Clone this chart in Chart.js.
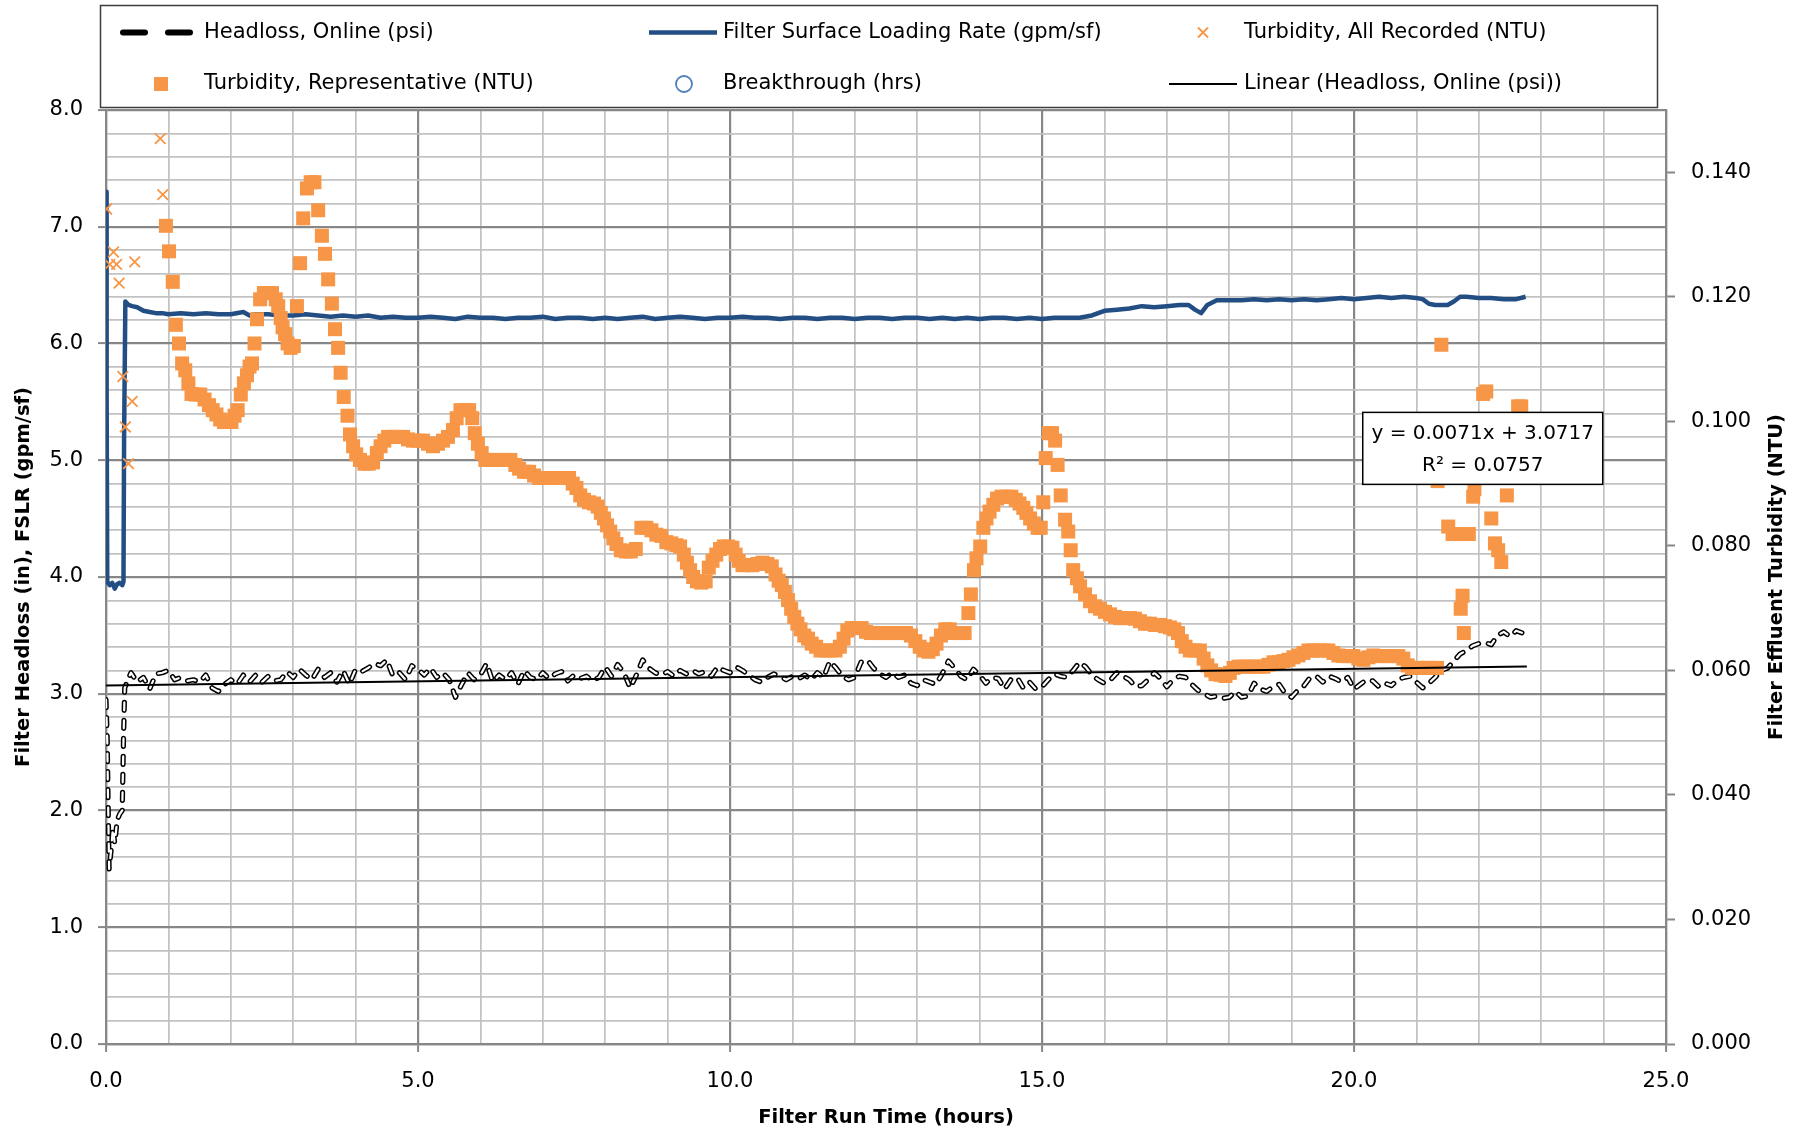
<!DOCTYPE html>
<html>
<head>
<meta charset="utf-8">
<script src="https://cdn.jsdelivr.net/npm/chart.js@4.4.0/dist/chart.umd.min.js"></script>
<style>
html,body{margin:0;padding:0;background:#fff;}
#wrap{width:1808px;height:1134px;position:relative;}
</style>
</head>
<body>
<div id="wrap"><canvas id="c" width="1808" height="1134"></canvas></div>
<script>
// ---------------- DATA ----------------
const seriesNames = [
  'Headloss, Online (psi)',
  'Filter Surface Loading Rate (gpm/sf)',
  'Turbidity, All Recorded (NTU)',
  'Turbidity, Representative (NTU)',
  'Breakthrough (hrs)',
  'Linear (Headloss, Online (psi))'
];
const xTitle = 'Filter Run Time (hours)';
const yTitle = 'Filter Headloss (in), FSLR (gpm/sf)';
const y2Title = 'Filter Effluent Turbidity (NTU)';
const trendLabel = ['y = 0.0071x + 3.0717', 'R\u00B2 = 0.0757'];

const xTickValues = [0, 5, 10, 15, 20, 25];
const xTickLabels = ['0.0', '5.0', '10.0', '15.0', '20.0', '25.0'];
const yTickValues = [0, 1, 2, 3, 4, 5, 6, 7, 8];
const yTickLabels = ['0.0', '1.0', '2.0', '3.0', '4.0', '5.0', '6.0', '7.0', '8.0'];
const y2TickValues = [0, 0.02, 0.04, 0.06, 0.08, 0.10, 0.12, 0.14];
const y2TickLabels = ['0.000', '0.020', '0.040', '0.060', '0.080', '0.100', '0.120', '0.140'];

// Headloss, Online (psi) - left axis
const hlTime = [
  0, 0.02, 0.03, 0.05, 0.08, 0.11, 0.14, 0.18, 0.22, 0.26,
  0.28, 0.30, 0.35,
  0.4, 0.5, 0.6, 0.7, 0.8, 0.9, 1.0, 1.1, 1.2, 1.3,
  1.4, 1.5, 1.6, 1.7, 1.8, 1.9, 2.0, 2.1, 2.2, 2.3,
  2.4, 2.5, 2.6, 2.7, 2.8, 2.9, 3.0, 3.1, 3.2, 3.3,
  3.4, 3.5, 3.6, 3.7, 3.8, 3.9, 4.0, 4.1, 4.2, 4.3,
  4.4, 4.5, 4.6, 4.7, 4.8, 4.9, 5.0, 5.1, 5.2, 5.3,
  5.4, 5.5, 5.6, 5.7, 5.8, 5.9, 6.0, 6.1, 6.2, 6.3,
  6.4, 6.5, 6.6, 6.7, 6.8, 6.9, 7.0, 7.1, 7.2, 7.3,
  7.4, 7.5, 7.6, 7.7, 7.8, 7.9, 8.0, 8.1, 8.2, 8.3,
  8.4, 8.5, 8.6, 8.7, 8.8, 8.9, 9.0, 9.1, 9.2, 9.3,
  9.4, 9.5, 9.6, 9.7, 9.8, 9.9, 10.0, 10.1, 10.2, 10.3,
  10.4, 10.5, 10.6, 10.7, 10.8, 10.9, 11.0, 11.1, 11.2, 11.3,
  11.4, 11.5, 11.6, 11.7, 11.8, 11.9, 12.0, 12.1, 12.2, 12.3,
  12.4, 12.5, 12.6, 12.7, 12.8, 12.9, 13.0, 13.1, 13.2, 13.3,
  13.4, 13.5, 13.6, 13.7, 13.8, 13.9, 14.0, 14.1, 14.2, 14.3,
  14.4, 14.5, 14.6, 14.7, 14.8, 14.9, 15.0, 15.1, 15.2, 15.3,
  15.4, 15.5, 15.6, 15.7, 15.8, 15.9, 16.0, 16.1, 16.2, 16.3,
  16.4, 16.5, 16.6, 16.7, 16.8, 16.9, 17.0, 17.1, 17.2, 17.3,
  17.4, 17.5, 17.6, 17.7, 17.8, 17.9, 18.0, 18.1, 18.2, 18.3,
  18.4, 18.5, 18.6, 18.7, 18.8, 18.9, 19.0, 19.1, 19.2, 19.3,
  19.4, 19.5, 19.6, 19.7, 19.8, 19.9, 20.0, 20.1, 20.2, 20.3,
  20.4, 20.5, 20.6, 20.7, 20.8, 20.9, 21.0, 21.1, 21.2, 21.3,
  21.4, 21.5, 21.6, 21.7, 21.8, 21.9, 22.0, 22.1, 22.2, 22.3,
  22.4, 22.5, 22.6, 22.7, 22.75
];
const hlValue = [
  2.95, 2.60, 2.20, 1.50, 1.65, 1.85, 1.72, 1.92, 1.97, 2.00,
  2.60, 3.05, 3.12,
  3.18, 3.10, 3.14, 3.04, 3.17, 3.18, 3.20, 3.12, 3.14, 3.11,
  3.12, 3.10, 3.16, 3.05, 3.02, 3.08, 3.12, 3.08, 3.16, 3.10,
  3.16, 3.10, 3.15, 3.11, 3.12, 3.19, 3.14, 3.21, 3.16, 3.12,
  3.21, 3.14, 3.18, 3.10, 3.20, 3.08, 3.21, 3.19, 3.22, 3.26,
  3.24, 3.29, 3.15, 3.18, 3.12, 3.24, 3.21, 3.16, 3.22, 3.14,
  3.18, 3.12, 2.97, 3.08, 3.18, 3.12, 3.16, 3.26, 3.10, 3.16,
  3.12, 3.18, 3.08, 3.20, 3.14, 3.12, 3.18, 3.13, 3.17, 3.19,
  3.11, 3.16, 3.13, 3.15, 3.11, 3.14, 3.23, 3.15, 3.25, 3.18,
  3.05, 3.16, 3.29, 3.22, 3.18, 3.16, 3.19, 3.15, 3.20, 3.17,
  3.20, 3.17, 3.19, 3.15, 3.23, 3.20, 3.18, 3.23, 3.20, 3.16,
  3.12, 3.10, 3.14, 3.17, 3.15, 3.12, 3.15, 3.13, 3.16, 3.12,
  3.18, 3.14, 3.28, 3.22, 3.15, 3.12, 3.14, 3.27, 3.29, 3.22,
  3.17, 3.14, 3.18, 3.14, 3.16, 3.09, 3.07, 3.12, 3.10, 3.08,
  3.17, 3.28, 3.22, 3.15, 3.12, 3.21, 3.16, 3.09, 3.14, 3.13,
  3.04, 3.12, 3.14, 3.05, 3.10, 3.04, 3.06, 3.12, 3.17, 3.15,
  3.14, 3.20, 3.27, 3.23, 3.16, 3.12, 3.09, 3.12, 3.18, 3.15,
  3.12, 3.06, 3.07, 3.12, 3.18, 3.13, 3.06, 3.12, 3.15, 3.14,
  3.08, 3.03, 3.00, 2.97, 2.98, 2.96, 2.97, 3.02, 2.97, 2.98,
  3.09, 3.04, 3.02, 3.06, 3.08, 3.00, 2.97, 3.03, 3.07, 3.14,
  3.15, 3.10, 3.15, 3.13, 3.10, 3.14, 3.04, 3.08, 3.12, 3.11,
  3.06, 3.09, 3.07, 3.12, 3.14, 3.15, 3.10, 3.05, 3.09, 3.14,
  3.20, 3.22, 3.28, 3.34, 3.37, 3.41, 3.43, 3.44, 3.42, 3.50,
  3.53, 3.49, 3.54, 3.52, 3.55
];

// Filter Surface Loading Rate (gpm/sf) - left axis
const fslrTime = [
  0, 0.01, 0.02, 0.06, 0.10, 0.14, 0.18, 0.22, 0.26, 0.28,
  0.29, 0.31, 0.36, 0.42, 0.5, 0.6, 0.7, 0.8, 0.9, 1.0,
  1.2, 1.4, 1.6, 1.8, 2.0, 2.2, 2.3, 2.4, 2.6, 2.8,
  3.0, 3.2, 3.4, 3.6, 3.8, 4.0, 4.2, 4.4, 4.6, 4.8,
  5.0, 5.2, 5.4, 5.6, 5.8, 6.0, 6.2, 6.4, 6.6, 6.8,
  7.0, 7.2, 7.4, 7.6, 7.8, 8.0, 8.2, 8.4, 8.6, 8.8,
  9.0, 9.2, 9.4, 9.6, 9.8, 10.0, 10.2, 10.4, 10.6, 10.8,
  11.0, 11.2, 11.4, 11.6, 11.8, 12.0, 12.2, 12.4, 12.6, 12.8,
  13.0, 13.2, 13.4, 13.6, 13.8, 14.0, 14.2, 14.4, 14.6, 14.8,
  15.0, 15.2, 15.4, 15.6, 15.8, 16.0, 16.2, 16.4, 16.6, 16.8,
  17.0, 17.2, 17.35, 17.45, 17.55, 17.65, 17.8, 18.0, 18.2, 18.4,
  18.6, 18.8, 19.0, 19.2, 19.4, 19.6, 19.8, 20.0, 20.2, 20.4,
  20.6, 20.8, 21.0, 21.1, 21.2, 21.3, 21.4, 21.5, 21.6, 21.7,
  21.8, 22.0, 22.2, 22.4, 22.6, 22.75
];
const fslrValue = [
  7.30, 5.60, 3.96, 3.93, 3.95, 3.90, 3.94, 3.95, 3.93, 3.96,
  5.20, 6.36, 6.33, 6.32, 6.31, 6.28, 6.27, 6.26, 6.26, 6.25,
  6.26, 6.25, 6.26, 6.25, 6.25, 6.27, 6.24, 6.25, 6.25, 6.24,
  6.24, 6.25, 6.24, 6.23, 6.24, 6.23, 6.24, 6.22, 6.23, 6.22,
  6.22, 6.23, 6.22, 6.21, 6.23, 6.22, 6.22, 6.21, 6.22, 6.22,
  6.23, 6.21, 6.22, 6.22, 6.21, 6.22, 6.21, 6.22, 6.23, 6.21,
  6.22, 6.23, 6.22, 6.21, 6.22, 6.22, 6.23, 6.22, 6.22, 6.21,
  6.22, 6.22, 6.21, 6.22, 6.22, 6.21, 6.22, 6.22, 6.21, 6.22,
  6.22, 6.21, 6.22, 6.21, 6.22, 6.21, 6.22, 6.22, 6.21, 6.22,
  6.21, 6.22, 6.22, 6.22, 6.24, 6.28, 6.29, 6.30, 6.32, 6.31,
  6.32, 6.33, 6.33, 6.29, 6.26, 6.33, 6.37, 6.37, 6.37, 6.38,
  6.37, 6.38, 6.37, 6.38, 6.37, 6.38, 6.39, 6.38, 6.39, 6.40,
  6.39, 6.40, 6.39, 6.38, 6.34, 6.33, 6.33, 6.33, 6.36, 6.40,
  6.40, 6.39, 6.39, 6.38, 6.38, 6.40
];

// Turbidity, All Recorded (NTU) - right axis
const turbAllTime = [0.01, 0.06, 0.12, 0.17, 0.21, 0.27, 0.31, 0.36, 0.42, 0.46, 0.87, 0.91];
const turbAllNTU  = [0.1341, 0.1252, 0.1272, 0.1252, 0.1222, 0.1072, 0.0991, 0.0932, 0.1032, 0.1256, 0.1454, 0.1364];

// Turbidity, Representative (NTU) - right axis
const turbRepTime = [
  0.96, 1.01, 1.07, 1.12, 1.17, 1.22, 1.27, 1.32, 1.37, 1.44,
  1.51, 1.58, 1.65, 1.71, 1.77, 1.83, 1.89, 1.95, 2.01, 2.06,
  2.11, 2.16, 2.21, 2.26, 2.30, 2.34, 2.38, 2.42, 2.47, 2.53,
  2.60, 2.66, 2.72, 2.76, 2.80, 2.83, 2.87, 2.91, 2.96, 3.01,
  3.06, 3.11, 3.16, 3.22, 3.28, 3.34, 3.40, 3.46, 3.51, 3.56,
  3.62, 3.67, 3.72, 3.76, 3.81, 3.87, 3.91, 3.96, 4.01, 4.07,
  4.14, 4.21, 4.28, 4.34, 4.40, 4.46, 4.52, 4.60, 4.68, 4.76,
  4.84, 4.92, 5.00, 5.08, 5.16, 5.24, 5.32, 5.40, 5.48, 5.56,
  5.62, 5.68, 5.75, 5.82, 5.87, 5.91, 5.96, 6.02, 6.08, 6.16,
  6.24, 6.32, 6.40, 6.48, 6.56, 6.62, 6.70, 6.78, 6.86, 6.94,
  7.02, 7.10, 7.18, 7.26, 7.34, 7.42, 7.48, 7.54, 7.60, 7.66,
  7.74, 7.82, 7.88, 7.93, 7.98, 8.03, 8.08, 8.13, 8.18, 8.25,
  8.33, 8.41, 8.49, 8.58, 8.66, 8.74, 8.82, 8.90, 8.98, 9.06,
  9.14, 9.20, 9.26, 9.31, 9.36, 9.41, 9.47, 9.54, 9.61, 9.66,
  9.72, 9.78, 9.84, 9.90, 9.97, 10.04, 10.09, 10.14, 10.20, 10.28,
  10.36, 10.44, 10.52, 10.60, 10.67, 10.73, 10.78, 10.83, 10.88, 10.93,
  10.98, 11.03, 11.08, 11.13, 11.19, 11.25, 11.31, 11.38, 11.45, 11.53,
  11.61, 11.69, 11.76, 11.82, 11.88, 11.95, 12.03, 12.11, 12.18, 12.26,
  12.34, 12.42, 12.50, 12.58, 12.66, 12.74, 12.82, 12.90, 12.97, 13.04,
  13.11, 13.18, 13.25, 13.31, 13.38, 13.45, 13.52, 13.60, 13.68, 13.76,
  13.82, 13.86, 13.91, 13.95, 14.01, 14.06, 14.11, 14.16, 14.22, 14.28,
  14.35, 14.43, 14.51, 14.58, 14.64, 14.70, 14.75, 14.81, 14.87, 14.93,
  14.98, 15.02, 15.06, 15.11, 15.16, 15.21, 15.25, 15.30, 15.37, 15.42,
  15.46, 15.50, 15.56, 15.61, 15.69, 15.77, 15.85, 15.93, 16.01, 16.09,
  16.17, 16.25, 16.33, 16.41, 16.49, 16.57, 16.65, 16.73, 16.81, 16.89,
  16.97, 17.05, 17.12, 17.18, 17.24, 17.30, 17.37, 17.45, 17.53, 17.59,
  17.65, 17.71, 17.78, 17.86, 17.94, 18.01, 18.07, 18.15, 18.23, 18.31,
  18.39, 18.47, 18.55, 18.63, 18.71, 18.79, 18.87, 18.95, 19.03, 19.11,
  19.19, 19.27, 19.35, 19.43, 19.51, 19.59, 19.67, 19.75, 19.83, 19.91,
  19.99, 20.07, 20.15, 20.23, 20.31, 20.39, 20.47, 20.55, 20.63, 20.71,
  20.79, 20.86, 20.93, 21.01, 21.09, 21.17, 21.25, 21.33, 21.34, 21.40,
  21.51, 21.58, 21.66, 21.71, 21.74, 21.76, 21.84, 21.91, 21.93, 22.07,
  22.12, 22.20, 22.26, 22.31, 22.36, 22.45, 22.63, 22.68
];
const turbRepNTU = [
  0.1314, 0.1273, 0.1224, 0.1155, 0.1125, 0.1093, 0.1082, 0.1061, 0.1044, 0.1043,
  0.1043, 0.1035, 0.1026, 0.1018, 0.1011, 0.1003, 0.0999, 0.0999, 0.0999, 0.1009,
  0.1018, 0.1043, 0.1061, 0.1074, 0.1088, 0.1093, 0.1125, 0.1164, 0.1196, 0.1206,
  0.1206, 0.1206, 0.1196, 0.1185, 0.1166, 0.1151, 0.1140, 0.1125, 0.1118, 0.1121,
  0.1185, 0.1254, 0.1326, 0.1374, 0.1384, 0.1384, 0.1339, 0.1298, 0.1269, 0.1228,
  0.1189, 0.1148, 0.1118, 0.1078, 0.1039, 0.1009, 0.0979, 0.0960, 0.0947, 0.0938,
  0.0932, 0.0932, 0.0934, 0.0949, 0.0960, 0.0969, 0.0975, 0.0975, 0.0975, 0.0975,
  0.0971, 0.0969, 0.0969, 0.0969, 0.0964, 0.0960, 0.0964, 0.0969, 0.0975, 0.0986,
  0.1005, 0.1018, 0.1018, 0.1018, 0.1005, 0.0981, 0.0964, 0.0949, 0.0938, 0.0938,
  0.0938, 0.0938, 0.0938, 0.0938, 0.0930, 0.0924, 0.0919, 0.0919, 0.0913, 0.0909,
  0.0909, 0.0909, 0.0909, 0.0909, 0.0909, 0.0909, 0.0900, 0.0893, 0.0881, 0.0874,
  0.0870, 0.0868, 0.0863, 0.0853, 0.0844, 0.0833, 0.0823, 0.0812, 0.0803, 0.0793,
  0.0791, 0.0791, 0.0795, 0.0829, 0.0829, 0.0825, 0.0818, 0.0816, 0.0806, 0.0804,
  0.0801, 0.0799, 0.0786, 0.0773, 0.0761, 0.0750, 0.0743, 0.0741, 0.0743, 0.0765,
  0.0776, 0.0786, 0.0795, 0.0799, 0.0799, 0.0797, 0.0786, 0.0776, 0.0769, 0.0769,
  0.0769, 0.0771, 0.0773, 0.0771, 0.0767, 0.0754, 0.0744, 0.0737, 0.0726, 0.0713,
  0.0699, 0.0686, 0.0675, 0.0666, 0.0656, 0.0651, 0.0643, 0.0638, 0.0632, 0.0632,
  0.0632, 0.0632, 0.0638, 0.0651, 0.0664, 0.0668, 0.0668, 0.0668, 0.0662, 0.0660,
  0.0660, 0.0660, 0.0660, 0.0660, 0.0660, 0.0660, 0.0660, 0.0656, 0.0647, 0.0638,
  0.0632, 0.0630, 0.0634, 0.0643, 0.0656, 0.0666, 0.0666, 0.0660, 0.0660, 0.0660,
  0.0692, 0.0722, 0.0761, 0.0780, 0.0799, 0.0829, 0.0844, 0.0855, 0.0866, 0.0876,
  0.0879, 0.0879, 0.0879, 0.0874, 0.0868, 0.0861, 0.0853, 0.0844, 0.0836, 0.0829,
  0.0829, 0.0870, 0.0941, 0.0981, 0.0981, 0.0969, 0.0930, 0.0881, 0.0842, 0.0823,
  0.0793, 0.0761, 0.0748, 0.0735, 0.0722, 0.0711, 0.0703, 0.0699, 0.0694, 0.0690,
  0.0686, 0.0684, 0.0684, 0.0684, 0.0683, 0.0679, 0.0675, 0.0675, 0.0673, 0.0673,
  0.0671, 0.0669, 0.0666, 0.0660, 0.0647, 0.0638, 0.0632, 0.0632, 0.0632, 0.0619,
  0.0608, 0.0600, 0.0594, 0.0593, 0.0591, 0.0596, 0.0604, 0.0606, 0.0606, 0.0606,
  0.0606, 0.0606, 0.0606, 0.0609, 0.0613, 0.0613, 0.0615, 0.0617, 0.0621, 0.0624,
  0.0628, 0.0632, 0.0632, 0.0632, 0.0632, 0.0632, 0.0628, 0.0624, 0.0623, 0.0623,
  0.0623, 0.0619, 0.0617, 0.0621, 0.0624, 0.0623, 0.0623, 0.0623, 0.0623, 0.0623,
  0.0619, 0.0608, 0.0604, 0.0604, 0.0604, 0.0604, 0.0604, 0.0604, 0.0904, 0.1123,
  0.0831, 0.0819, 0.0819, 0.0699, 0.0720, 0.0660, 0.0819, 0.0879, 0.0891, 0.1044,
  0.1048, 0.0844, 0.0804, 0.0793, 0.0774, 0.0881, 0.1024, 0.1024
];

// Breakthrough (hrs) - no points shown in this run
const breakTime = [];
const breakNTU = [];

// Linear trendline of headloss (end points of the fitted line)
const trendTime = [0, 22.77];
const trendValue = [3.0717, 3.2334];

// ---------------- STYLE ----------------
const MAJOR = '#878787', MINOR = '#c2c2c2';
const ORANGE = '#F79646', BLUE = '#234E84', LIGHTBLUE = '#4F81BD';
const FONT = "'DejaVu Sans', sans-serif";

const near = (a, b) => Math.abs(a - b) < 1e-6;
const isIn = (vals, v) => vals.some(t => near(t, v));
const labelFor = (vals, labs, v) => { const i = vals.findIndex(t => near(t, v)); return i >= 0 ? labs[i] : ''; };
const xy = (xs, ys) => xs.map((x, i) => ({ x: x, y: ys[i] }));
const CLEAR = 'rgba(0,0,0,0)';

const decor = {
  id: 'decor',
  beforeDraw(chart) {
    const ctx = chart.ctx;
    ctx.save();
    ctx.fillStyle = '#fff';
    ctx.fillRect(0, 0, chart.width, chart.height);
    ctx.restore();
  },
  afterDraw(chart) {
    const ctx = chart.ctx;
    const line = (x1, y1, x2, y2) => { ctx.beginPath(); ctx.moveTo(x1, y1); ctx.lineTo(x2, y2); ctx.stroke(); };
    ctx.save();
    // ---- legend ----
    ctx.fillStyle = '#fff';
    ctx.fillRect(100, 5, 1558, 103);
    ctx.strokeStyle = '#3c3c3c'; ctx.lineWidth = 1.5;
    ctx.strokeRect(100.5, 5.5, 1557, 102);
    ctx.font = '21px ' + FONT;
    ctx.textBaseline = 'middle'; ctx.textAlign = 'left';
    const r1 = 32.5, r2 = 84;
    // headloss dashes
    ctx.strokeStyle = '#000'; ctx.lineWidth = 6; ctx.lineCap = 'round';
    line(123, r1, 145, r1); line(168, r1, 190, r1);
    ctx.fillStyle = '#000'; ctx.fillText(seriesNames[0], 204, r1);
    // FSLR
    ctx.strokeStyle = BLUE; ctx.lineWidth = 4.5; ctx.lineCap = 'butt';
    line(649, r1, 717, r1);
    ctx.fillText(seriesNames[1], 723, r1);
    // cross
    ctx.strokeStyle = ORANGE; ctx.lineWidth = 1.8;
    line(1198, r1 - 5, 1208, r1 + 5); line(1198, r1 + 5, 1208, r1 - 5);
    ctx.fillText(seriesNames[2], 1244, r1);
    // square
    ctx.fillStyle = ORANGE; ctx.fillRect(154, r2 - 7, 14, 14);
    ctx.fillStyle = '#000'; ctx.fillText(seriesNames[3], 204, r2);
    // circle
    ctx.strokeStyle = LIGHTBLUE; ctx.lineWidth = 1.8;
    ctx.beginPath(); ctx.arc(684, r2, 8, 0, Math.PI * 2); ctx.stroke();
    ctx.fillText(seriesNames[4], 723, r2);
    // linear
    ctx.strokeStyle = '#000'; ctx.lineWidth = 2;
    line(1169, r2, 1237, r2);
    ctx.fillText(seriesNames[5], 1244, r2);

    // ---- axis titles ----
    const ca = chart.chartArea;
    const midY = (ca.top + ca.bottom) / 2;
    ctx.font = 'bold 19.5px ' + FONT;
    ctx.textAlign = 'center'; ctx.textBaseline = 'middle';
    ctx.fillText(xTitle, (ca.left + ca.right) / 2, 1118);
    ctx.save(); ctx.translate(24, midY); ctx.rotate(-Math.PI / 2); ctx.fillText(yTitle, 0, 0); ctx.restore();
    ctx.save(); ctx.translate(1777, midY); ctx.rotate(-Math.PI / 2); ctx.fillText(y2Title, 0, 0); ctx.restore();

    // ---- trendline label ----
    const xs = chart.scales.x, ys = chart.scales.y;
    const bx = xs.getPixelForValue(20.14), by = ys.getPixelForValue(5.41);
    const bw = 240, bh = 72;
    ctx.fillStyle = '#fff'; ctx.fillRect(bx, by, bw, bh);
    ctx.strokeStyle = '#000'; ctx.lineWidth = 1.5; ctx.strokeRect(bx, by, bw, bh);
    ctx.fillStyle = '#000'; ctx.font = '20px ' + FONT;
    ctx.fillText(trendLabel[0], bx + bw / 2, by + 21);
    ctx.fillText(trendLabel[1], bx + bw / 2, by + 53);
    ctx.restore();
  }
};

const hlData = xy(hlTime, hlValue);

new Chart(document.getElementById('c'), {
  type: 'scatter',
  data: {
    datasets: [
      { label: seriesNames[5], data: xy(trendTime, trendValue), showLine: true, borderColor: '#000', borderWidth: 2,
        pointRadius: 0, pointHoverRadius: 0, yAxisID: 'y', order: 0 },
      { label: seriesNames[3], data: xy(turbRepTime, turbRepNTU), pointStyle: 'rect', pointRadius: 9.9, pointHoverRadius: 9.9,
        backgroundColor: ORANGE, borderColor: ORANGE, borderWidth: 0, yAxisID: 'y2', order: 1 },
      { label: seriesNames[2], data: xy(turbAllTime, turbAllNTU), pointStyle: 'crossRot', pointRadius: 7.5, pointHoverRadius: 7.5,
        borderColor: ORANGE, backgroundColor: ORANGE, borderWidth: 1.8, yAxisID: 'y2', order: 2 },
      { label: seriesNames[4], data: xy(breakTime, breakNTU), pointStyle: 'circle', pointRadius: 8,
        borderColor: LIGHTBLUE, backgroundColor: CLEAR, borderWidth: 1.8, yAxisID: 'y2', order: 3 },
      { label: seriesNames[0] + ' inner', data: hlData, showLine: true, borderColor: '#fff', borderWidth: 2.2,
        borderDash: [8, 10], borderCapStyle: 'round', borderJoinStyle: 'round', pointRadius: 0, pointHoverRadius: 0, yAxisID: 'y', order: 4 },
      { label: seriesNames[0], data: hlData, showLine: true, borderColor: '#000', borderWidth: 5.2,
        borderDash: [8, 10], borderCapStyle: 'round', borderJoinStyle: 'round', pointRadius: 0, pointHoverRadius: 0, yAxisID: 'y', order: 5 },
      { label: seriesNames[1], data: xy(fslrTime, fslrValue), showLine: true, borderColor: BLUE, borderWidth: 4.5,
        borderJoinStyle: 'round', pointRadius: 0, pointHoverRadius: 0, yAxisID: 'y', order: 6 }
    ]
  },
  options: {
    responsive: false,
    animation: false,
    events: [],
    layout: { padding: { top: 110, left: 0, right: 0, bottom: 0 } },
    plugins: { legend: { display: false }, tooltip: { enabled: false }, title: { display: false } },
    scales: {
      x: {
        type: 'linear', position: 'bottom', min: 0, max: 25,
        afterFit: s => { s.height = 90; },
        ticks: { stepSize: 1, autoSkip: false, maxRotation: 0, padding: 17, color: '#000',
          font: { family: FONT, size: 21 }, callback: v => labelFor(xTickValues, xTickLabels, v) },
        grid: {
          color: c => isIn(xTickValues, c.tick.value) ? MAJOR : MINOR,
          lineWidth: c => isIn(xTickValues, c.tick.value) ? 2.2 : 1.7,
          tickLength: 8,
          tickColor: c => isIn(xTickValues, c.tick.value) ? MAJOR : CLEAR,
          tickWidth: 2
        },
        border: { display: true, color: MAJOR, width: 2.2 }
      },
      y: {
        type: 'linear', position: 'left', min: 0, max: 8,
        afterFit: s => { s.width = 106; },
        ticks: { stepSize: 0.2, autoSkip: false, padding: 15, color: '#000',
          font: { family: FONT, size: 21 }, callback: v => labelFor(yTickValues, yTickLabels, v) },
        grid: {
          color: c => isIn(yTickValues, c.tick.value) ? MAJOR : MINOR,
          lineWidth: c => isIn(yTickValues, c.tick.value) ? 2.2 : 1.7,
          tickLength: 8,
          tickColor: c => isIn(yTickValues, c.tick.value) ? MAJOR : CLEAR,
          tickWidth: 2
        },
        border: { display: true, color: MAJOR, width: 2.2 }
      },
      y2: {
        type: 'linear', position: 'right', min: 0, max: 0.15,
        afterFit: s => { s.width = 142; },
        ticks: { stepSize: 0.02, autoSkip: false, padding: 16, color: '#000',
          font: { family: FONT, size: 21 }, callback: v => labelFor(y2TickValues, y2TickLabels, v) },
        grid: {
          drawOnChartArea: false,
          tickLength: 9,
          tickColor: c => isIn(y2TickValues, c.tick.value) ? MAJOR : CLEAR,
          tickWidth: 2
        },
        border: { display: true, color: MAJOR, width: 2.2 }
      }
    }
  },
  plugins: [decor]
});
</script>
</body>
</html>
